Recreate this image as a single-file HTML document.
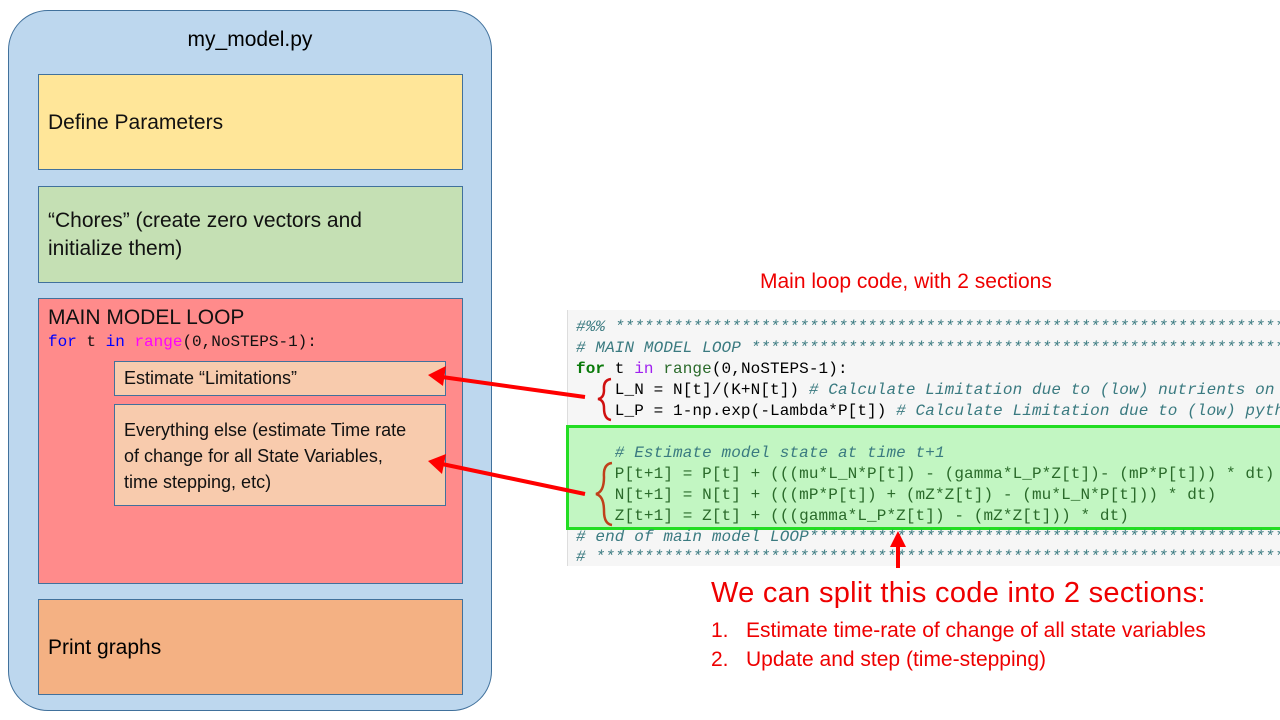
<!DOCTYPE html>
<html><head><meta charset="utf-8"><style>
body{margin:0;width:1280px;height:720px;background:#fff;position:relative;overflow:hidden;font-family:"Liberation Sans",sans-serif}
.a{position:absolute;box-sizing:border-box}
.bx{border:1px solid #41719c;font-size:21px;color:#111;padding-left:9px}
.code{font-family:"Liberation Mono",monospace;font-size:16px;white-space:pre;position:absolute;left:576px;line-height:21px;letter-spacing:0.1px}
.c{color:#3a7a80;font-style:italic}
.k{color:#0a7a0a;font-weight:bold}
.g{color:#2a6a2a}
</style></head><body>
<div class="a" style="left:8px;top:10px;width:484px;height:701px;background:#bdd7ee;border:1px solid #41719c;border-radius:40px"></div>
<div class="a" style="left:8px;top:28px;width:484px;text-align:center;font-size:21px">my_model.py</div>
<div class="a bx" style="left:38px;top:74px;width:425px;height:96px;background:#ffe699;line-height:96px">Define Parameters</div>
<div class="a bx" style="left:38px;top:186px;width:425px;height:97px;background:#c5e0b4;padding-top:20px;line-height:28px">“Chores” (create zero vectors and<br>initialize them)</div>
<div class="a bx" style="left:38px;top:298px;width:425px;height:286px;background:#ff8b8b;padding-top:6px;line-height:26px">MAIN MODEL LOOP<div style="font-family:'Liberation Mono',monospace;font-size:16px;line-height:22px"><span style="color:#0000ff">for</span> t <span style="color:#0000ff">in</span> <span style="color:#ff00ff">range</span>(0,NoSTEPS-1):</div></div>
<div class="a bx" style="left:114px;top:361px;width:332px;height:35px;background:#f8cbad;font-size:18px;line-height:33px">Estimate “Limitations”</div>
<div class="a bx" style="left:114px;top:404px;width:332px;height:102px;background:#f8cbad;font-size:18px;line-height:26px;padding-top:12px;white-space:nowrap">Everything else (estimate Time rate<br>of change for all State Variables,<br>time stepping, etc)</div>
<div class="a" style="left:38px;top:599px;width:425px;height:96px;background:#f4b183;border:1px solid #41719c;font-size:21px;padding-left:9px;line-height:96px">Print graphs</div>

<div class="a" style="left:760px;top:270px;font-size:21px;color:#e00">Main loop code, with 2 sections</div>
<div class="a" style="left:567px;top:310px;width:713px;height:256px;background:#f6f6f6;border-left:1px solid #ddd"></div>
<div class="a" style="left:566px;top:425px;width:714px;height:105px;background:#c2f6c2;border:3px solid #22dd22;border-right:none"></div>
<div class="code c" style="top:317px">#%% ***********************************************************************</div>
<div class="code c" style="top:338px"># MAIN MODEL LOOP ***********************************************************</div>
<div class="code" style="top:359px"><span class="k">for</span> t <span style="color:#a020f0">in</span> <span class="g">range</span>(0,NoSTEPS-1):</div>
<div class="code" style="top:380px">    L_N = N[t]/(K+N[t]) <span class="c"># Calculate Limitation due to (low) nutrients on phyto</span></div>
<div class="code" style="top:401px">    L_P = 1-np.exp(-Lambda*P[t]) <span class="c"># Calculate Limitation due to (low) pythopl</span></div>
<div class="code c" style="top:443px">    # Estimate model state at time t+1</div>
<div class="code g" style="top:464px">    P[t+1] = P[t] + (((mu*L_N*P[t]) - (gamma*L_P*Z[t])- (mP*P[t])) * dt)</div>
<div class="code g" style="top:485px">    N[t+1] = N[t] + (((mP*P[t]) + (mZ*Z[t]) - (mu*L_N*P[t])) * dt)</div>
<div class="code g" style="top:506px">    Z[t+1] = Z[t] + (((gamma*L_P*Z[t]) - (mZ*Z[t])) * dt)</div>
<div class="code c" style="top:527px"># end of main model LOOP****************************************************</div>
<div class="code c" style="top:547px"># *************************************************************************</div>

<svg class="a" style="left:0;top:0" width="1280" height="720">
<path d="M611,379 Q603,380 604,390 Q604,398 598,399 Q604,400 604,408 Q604,419 611,420" fill="none" stroke="#d01010" stroke-width="2.5"/>
<path d="M612,463 Q603,464 604,477 Q604,492 596,494 Q604,496 604,511 Q604,524 612,525" fill="none" stroke="#c0401a" stroke-width="2.5"/>
<line x1="585" y1="397" x2="442" y2="377" stroke="#f00" stroke-width="4"/>
<polygon points="428,375 446,366 443,386" fill="#f00"/>
<line x1="585" y1="494" x2="442" y2="464" stroke="#f00" stroke-width="4"/>
<polygon points="428,461 446,454 442,474" fill="#f00"/>
<line x1="898" y1="568" x2="898" y2="545" stroke="#f00" stroke-width="4"/>
<polygon points="898,531 890,547 906,547" fill="#f00"/>
</svg>
<div class="a" style="left:711px;top:577px;font-size:29px;color:#e00;letter-spacing:0.3px">We can split this code into 2 sections:</div>
<div class="a" style="left:711px;top:616px;font-size:21px;color:#e00;line-height:29px;white-space:nowrap">1.<span style="position:absolute;left:35px">Estimate time-rate of change of all state variables</span><br>2.<span style="position:absolute;left:35px">Update and step (time-stepping)</span></div>
</body></html>
